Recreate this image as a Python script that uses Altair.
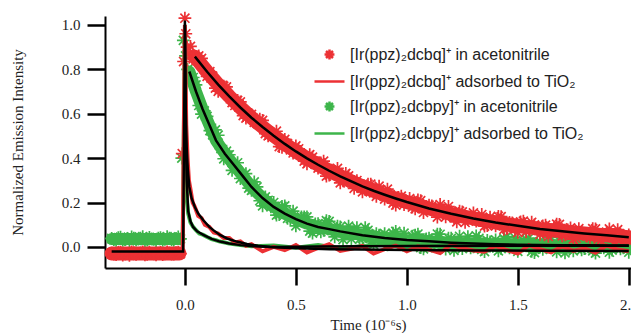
import altair as alt
import pandas as pd

# ---------------- labels ----------------
LAB_RED_ACN = "[Ir(ppz)₂dcbq]⁺ in acetonitrile"
LAB_RED_TIO2 = "[Ir(ppz)₂dcbq]⁺ adsorbed to TiO₂"
LAB_GRN_ACN = "[Ir(ppz)₂dcbpy]⁺ in acetonitrile"
LAB_GRN_TIO2 = "[Ir(ppz)₂dcbpy]⁺ adsorbed to TiO₂"
SERIES = [LAB_RED_ACN, LAB_RED_TIO2, LAB_GRN_ACN, LAB_GRN_TIO2]

# ---------------- data ----------------
T_PRE = [-0.33, -0.31, -0.29, -0.27, -0.25, -0.23, -0.21, -0.19,
         -0.17, -0.15, -0.13, -0.11, -0.09, -0.07, -0.05, -0.03]
RED_PRE = [-0.028, -0.035, -0.024, -0.031, -0.038, -0.026, -0.030, -0.022,
           -0.034, -0.029, -0.036, -0.025, -0.031, -0.027, -0.033, -0.024]
GRN_PRE = [0.038, 0.030, 0.044, 0.033, 0.027, 0.040, 0.035, 0.046,
           0.031, 0.036, 0.028, 0.042, 0.034, 0.039, 0.030, 0.045]
T_PRE_B = [-0.32, -0.30, -0.28, -0.26, -0.24, -0.22, -0.20, -0.18,
           -0.16, -0.14, -0.12, -0.10, -0.08, -0.06, -0.04, -0.02]
RED_PRE_B = [-0.032, -0.025, -0.037, -0.029, -0.022, -0.034, -0.027, -0.036,
             -0.024, -0.031, -0.028, -0.035, -0.023, -0.033, -0.026, -0.030]
GRN_PRE_B = [0.033, 0.042, 0.029, 0.037, 0.045, 0.031, 0.039, 0.028,
             0.043, 0.034, 0.040, 0.030, 0.046, 0.032, 0.038, 0.036]

T_RED_SPIKE = [-0.012, -0.006, 0.0, 0.004, 0.010, 0.018]
RED_SPIKE = [0.42, 0.835, 1.03, 0.96, 0.90, 0.87]
T_GRN_SPIKE = [-0.014, -0.007, 0.003, 0.012]
GRN_SPIKE = [0.40, 0.93, 0.86, 0.80]

T_DECAY = [0.025, 0.05, 0.075, 0.1, 0.125, 0.15, 0.175, 0.2, 0.225, 0.25,
           0.275, 0.3, 0.325, 0.35, 0.375, 0.4, 0.425, 0.45, 0.475, 0.5,
           0.525, 0.55, 0.575, 0.6, 0.625, 0.65, 0.675, 0.7, 0.725, 0.75,
           0.775, 0.8, 0.825, 0.85, 0.875, 0.9, 0.925, 0.95, 0.975, 1.0,
           1.025, 1.05, 1.075, 1.1, 1.125, 1.15, 1.175, 1.2, 1.225, 1.25,
           1.275, 1.3, 1.325, 1.35, 1.375, 1.4, 1.425, 1.45, 1.475, 1.5,
           1.525, 1.55, 1.575, 1.6, 1.625, 1.65, 1.675, 1.7, 1.725, 1.75,
           1.775, 1.8, 1.825, 1.85, 1.875, 1.9, 1.925, 1.95, 1.975, 2.0]
RED_DECAY = [0.903, 0.841, 0.849, 0.768, 0.769, 0.701, 0.724, 0.678, 0.637, 0.653,
             0.580, 0.597, 0.556, 0.570, 0.500, 0.510, 0.452, 0.484, 0.437, 0.455,
             0.419, 0.374, 0.404, 0.355, 0.386, 0.323, 0.340, 0.288, 0.331, 0.290,
             0.299, 0.248, 0.283, 0.243, 0.274, 0.215, 0.236, 0.188, 0.229, 0.202,
             0.179, 0.212, 0.155, 0.188, 0.162, 0.191, 0.135, 0.159, 0.113, 0.158,
             0.123, 0.153, 0.128, 0.094, 0.134, 0.095, 0.136, 0.082, 0.108, 0.065,
             0.116, 0.083, 0.099, 0.056, 0.098, 0.065, 0.103, 0.050, 0.077, 0.035,
             0.082, 0.060, 0.043, 0.081, 0.029, 0.067, 0.045, 0.078, 0.026, 0.054]
GRN_DECAY = [0.755, 0.730, 0.598, 0.588, 0.505, 0.503, 0.397, 0.415, 0.365, 0.308,
             0.330, 0.255, 0.270, 0.185, 0.210, 0.200, 0.145, 0.185, 0.127, 0.095,
             0.135, 0.135, 0.062, 0.105, 0.075, 0.115, 0.045, 0.090, 0.066, 0.036,
             0.087, 0.038, 0.075, 0.011, 0.053, 0.060, 0.018, 0.070, 0.023, 0.001,
             0.049, 0.058, -0.009, 0.040, 0.013, 0.057, -0.010, 0.039, 0.018, -0.008,
             0.046, 0.000, 0.039, -0.021, 0.023, 0.032, -0.008, 0.046, 0.001, -0.020,
             0.030, 0.040, -0.026, 0.024, -0.001, 0.043, -0.022, 0.028, 0.008, -0.018,
             0.037, -0.008, 0.032, -0.028, 0.016, 0.026, -0.014, 0.041, -0.004, -0.024]

T_DECAY_B = [0.0375, 0.0625, 0.0875, 0.1125, 0.1375, 0.1625, 0.1875, 0.2125, 0.2375, 0.2625,
             0.2875, 0.3125, 0.3375, 0.3625, 0.3875, 0.4125, 0.4375, 0.4625, 0.4875, 0.5125,
             0.5375, 0.5625, 0.5875, 0.6125, 0.6375, 0.6625, 0.6875, 0.7125, 0.7375, 0.7625,
             0.7875, 0.8125, 0.8375, 0.8625, 0.8875, 0.9125, 0.9375, 0.9625, 0.9875, 1.0125,
             1.0375, 1.0625, 1.0875, 1.1125, 1.1375, 1.1625, 1.1875, 1.2125, 1.2375, 1.2625,
             1.2875, 1.3125, 1.3375, 1.3625, 1.3875, 1.4125, 1.4375, 1.4625, 1.4875, 1.5125,
             1.5375, 1.5625, 1.5875, 1.6125, 1.6375, 1.6625, 1.6875, 1.7125, 1.7375, 1.7625,
             1.7875, 1.8125, 1.8375, 1.8625, 1.8875, 1.9125, 1.9375, 1.9625, 1.9875]
RED_DECAY_B = [0.847, 0.860, 0.799, 0.789, 0.715, 0.727, 0.721, 0.650, 0.660, 0.591,
               0.599, 0.561, 0.575, 0.510, 0.510, 0.521, 0.448, 0.465, 0.423, 0.442,
               0.386, 0.416, 0.372, 0.378, 0.319, 0.346, 0.354, 0.297, 0.320, 0.264,
               0.283, 0.258, 0.283, 0.228, 0.239, 0.260, 0.197, 0.223, 0.191, 0.218,
               0.171, 0.208, 0.172, 0.185, 0.134, 0.168, 0.182, 0.131, 0.161, 0.110,
               0.135, 0.116, 0.146, 0.096, 0.112, 0.138, 0.079, 0.110, 0.081, 0.113,
               0.069, 0.111, 0.078, 0.095, 0.047, 0.084, 0.101, 0.054, 0.086, 0.039,
               0.066, 0.049, 0.082, 0.035, 0.053, 0.081, 0.024, 0.057, 0.030]
GRN_DECAY_B = [0.763, 0.637, 0.613, 0.524, 0.527, 0.443, 0.431, 0.345, 0.379, 0.322,
               0.265, 0.293, 0.208, 0.225, 0.180, 0.143, 0.183, 0.129, 0.161, 0.120,
               0.135, 0.071, 0.104, 0.068, 0.118, 0.073, 0.093, 0.033, 0.094, 0.064,
               0.035, 0.087, 0.023, 0.060, 0.032, 0.009, 0.062, 0.019, 0.062, 0.030,
               0.053, -0.003, 0.036, 0.004, 0.058, 0.016, 0.040, -0.016, 0.048, 0.022,
               -0.004, 0.050, -0.011, 0.029, 0.003, -0.018, 0.037, -0.004, 0.041, 0.010,
               0.035, -0.020, 0.019, -0.011, 0.044, 0.003, 0.028, -0.027, 0.038, 0.012,
               -0.013, 0.042, -0.018, 0.022, -0.004, -0.024, 0.031, -0.009, 0.036]

# adsorbed to TiO2 (fast decays)
T_RED_TIO2 = [-0.01, 0.0, 0.006, 0.012, 0.018, 0.025, 0.035, 0.045, 0.06, 0.075,
              0.09, 0.11, 0.13, 0.15, 0.175, 0.2, 0.225, 0.25, 0.275, 0.3,
              0.35, 0.4, 0.45, 0.5, 0.55, 0.6, 0.65, 0.7, 0.75, 0.8,
              0.85, 0.9, 0.95, 1.0, 1.05, 1.1, 1.15, 1.2, 1.25, 1.3,
              1.35, 1.4, 1.45, 1.5, 1.55, 1.6, 1.65, 1.7, 1.75, 1.8,
              1.85, 1.9, 1.95, 2.0]
RED_TIO2 = [-0.020, 1.000, 0.550, 0.400, 0.300, 0.260, 0.200, 0.180, 0.140, 0.130,
            0.100, 0.090, 0.065, 0.060, 0.040, 0.040, 0.020, 0.025, 0.005, 0.012,
            -0.020, 0.000, -0.015, 0.008, -0.025, -0.005, 0.012, -0.018, -0.008, 0.004,
            -0.030, -0.010, 0.006, -0.020, 0.002, -0.012, -0.028, 0.010, -0.006, -0.016,
            -0.022, 0.004, -0.014, -0.030, 0.008, -0.010, -0.024, 0.002, -0.018, -0.006,
            -0.026, 0.006, -0.012, -0.020]
T_GRN_TIO2 = [-0.01, 0.0, 0.005, 0.01, 0.015, 0.025, 0.037, 0.05, 0.065, 0.083,
              0.1, 0.12, 0.14, 0.158, 0.18, 0.2, 0.25, 0.3, 0.4, 0.5,
              0.6, 0.7, 0.8, 0.9, 1.0, 1.1, 1.2, 1.3, 1.4, 1.5,
              1.6, 1.7, 1.8, 1.9, 2.0]
GRN_TIO2 = [0.030, 0.980, 0.400, 0.200, 0.150, 0.110, 0.090, 0.075, 0.060, 0.054,
            0.045, 0.035, 0.030, 0.024, 0.020, 0.015, 0.008, 0.003, 0.006, -0.004,
            0.008, -0.006, 0.004, 0.010, -0.005, 0.006, -0.008, 0.005, 0.000, 0.009,
            -0.004, 0.006, -0.007, 0.004, 0.002]

# black fitted curves
T_FIT_RED_ACN = [0.045, 0.1, 0.15, 0.2, 0.25, 0.3, 0.35, 0.4, 0.45, 0.5,
                 0.55, 0.6, 0.65, 0.7, 0.75, 0.8, 0.85, 0.9, 0.95, 1.0,
                 1.1, 1.2, 1.3, 1.4, 1.5, 1.6, 1.7, 1.8, 1.9, 2.0]
FIT_RED_ACN = [0.857, 0.789, 0.731, 0.678, 0.628, 0.582, 0.540, 0.501, 0.464, 0.430,
               0.399, 0.370, 0.343, 0.318, 0.295, 0.273, 0.253, 0.235, 0.218, 0.202,
               0.173, 0.149, 0.128, 0.110, 0.095, 0.081, 0.070, 0.060, 0.052, 0.044]
T_FIT_GRN_ACN = [0.02, 0.05, 0.08, 0.11, 0.14, 0.18, 0.22, 0.26, 0.3, 0.35,
                 0.4, 0.45, 0.5, 0.55, 0.6, 0.65, 0.7, 0.8, 0.9, 1.0,
                 1.1, 1.2, 1.3, 1.4, 1.5, 1.6, 1.7, 1.8, 1.9, 2.0]
FIT_GRN_ACN = [0.790, 0.700, 0.620, 0.550, 0.480, 0.420, 0.370, 0.320, 0.270, 0.220,
               0.180, 0.150, 0.125, 0.105, 0.090, 0.080, 0.070, 0.053, 0.040, 0.031,
               0.025, 0.019, 0.015, 0.012, 0.010, 0.009, 0.008, 0.007, 0.006, 0.006]
T_FIT_RED_TIO2 = [-0.33, -0.008, 0.0, 0.004, 0.008, 0.013, 0.02, 0.03, 0.045, 0.06,
                  0.083, 0.11, 0.135, 0.158, 0.19, 0.233, 0.28, 0.33, 0.383, 0.45,
                  0.55, 0.653, 0.8, 1.0, 1.3, 1.6, 2.0]
FIT_RED_TIO2 = [-0.021, -0.021, 1.02, 0.62, 0.45, 0.35, 0.27, 0.22, 0.18, 0.15,
                0.12, 0.09, 0.07, 0.054, 0.038, 0.024, 0.013, 0.005, 0.0, -0.004,
                -0.007, -0.010, -0.012, -0.014, -0.016, -0.017, -0.018]
T_FIT_GRN_TIO2 = [0.0, 0.004, 0.008, 0.015, 0.025, 0.037, 0.055, 0.083, 0.12, 0.158,
                  0.2, 0.25, 0.308, 0.4, 0.6, 1.0, 1.5, 2.0]
FIT_GRN_TIO2 = [1.0, 0.5, 0.3, 0.16, 0.115, 0.09, 0.07, 0.054, 0.036, 0.024,
                0.015, 0.008, 0.003, 0.0, 0.002, 0.004, 0.005, 0.005]

# centre of the dense baseline bands before excitation
T_BASE = [-0.33, -0.025]
RED_BASE = [-0.030, -0.030]
GRN_BASE = [0.036, 0.036]

# ---------------- tables ----------------
def frame(ts, ys, series, order):
    return pd.DataFrame({"t": ts, "y": ys, "series": series, "order": order})

stars = pd.concat([
    frame(T_PRE + T_PRE_B + T_GRN_SPIKE + T_DECAY + T_DECAY_B,
          GRN_PRE + GRN_PRE_B + GRN_SPIKE + GRN_DECAY + GRN_DECAY_B, LAB_GRN_ACN, 0),
    frame(T_PRE + T_PRE_B + T_RED_SPIKE + T_DECAY + T_DECAY_B,
          RED_PRE + RED_PRE_B + RED_SPIKE + RED_DECAY + RED_DECAY_B, LAB_RED_ACN, 1),
], ignore_index=True)
stars["idx"] = range(len(stars))

red_core = pd.concat([frame(T_BASE, RED_BASE, "a", 0),
                      frame(T_FIT_RED_ACN, FIT_RED_ACN, "b", 1)], ignore_index=True)
grn_core = pd.concat([frame(T_BASE, GRN_BASE, "a", 0),
                      frame(T_FIT_GRN_ACN, FIT_GRN_ACN, "b", 1)], ignore_index=True)

tio2 = pd.concat([
    frame(T_GRN_TIO2, GRN_TIO2, LAB_GRN_TIO2, 0),
    frame(T_RED_TIO2, RED_TIO2, LAB_RED_TIO2, 1),
], ignore_index=True)

fits = pd.concat([
    frame(T_FIT_RED_ACN, FIT_RED_ACN, "fit_red_acn", 0),
    frame(T_FIT_GRN_ACN, FIT_GRN_ACN, "fit_grn_acn", 1),
    frame(T_FIT_RED_TIO2, FIT_RED_TIO2, "fit_red_tio2", 2),
    frame(T_FIT_GRN_TIO2, FIT_GRN_TIO2, "fit_grn_tio2", 3),
], ignore_index=True)

RED = "#ec3134"
GREEN = "#3db54a"
STAR = ("M-0.33,0L0.33,0M0,-0.33L0,0.33M-0.233,-0.233L0.233,0.233"
        "M-0.233,0.233L0.233,-0.233")

x_scale = alt.Scale(domain=[-0.36, 2.01], nice=False, zero=False)
y_scale = alt.Scale(domain=[-0.095, 1.04], nice=False, zero=False)
color_scale = alt.Scale(domain=SERIES, range=[RED, RED, GREEN, GREEN])
shape_scale = alt.Scale(domain=SERIES, range=[STAR, "stroke", STAR, "stroke"])

x_axis = alt.Axis(values=[0, 0.5, 1.0, 1.5, 2.0], format=".1f", title="Time (10⁻⁶s)",
                  tickSize=17, labelPadding=12, titlePadding=5)
y_axis = alt.Axis(values=[0, 0.2, 0.4, 0.6, 0.8, 1.0], format=".1f",
                  title="Normalized Emission Intensity", tickSize=18, labelPadding=7,
                  titleX=-80)

legend = alt.Legend(title=None, orient="none", legendX=208, legendY=22,
                    symbolSize=900, symbolStrokeWidth=2.5, rowPadding=-2.2,
                    labelOffset=4, labelFont="Liberation Sans", labelFontSize=16,
                    labelColor="#222222", padding=0, labelLimit=400)


def core(df, colour, width):
    return alt.Chart(df).mark_line(color=colour, strokeWidth=width, strokeCap="round",
                                   strokeJoin="round").encode(
        x="t:Q", y="y:Q", detail="series:N")


def star_points(series):
    return alt.Chart(stars).transform_filter(
        alt.datum.series == series
    ).mark_point(filled=False, size=1500, strokeWidth=1.7, opacity=1).encode(
        x=alt.X("t:Q", scale=x_scale, axis=x_axis),
        y=alt.Y("y:Q", scale=y_scale, axis=y_axis),
        color=alt.Color("series:N", scale=color_scale, legend=legend),
        shape=alt.Shape("series:N", scale=shape_scale, legend=legend),
        order=alt.Order("idx:Q"),
    )


tio2_layer = alt.Chart(tio2).mark_line(strokeWidth=4).encode(
    x="t:Q", y="y:Q",
    color=alt.Color("series:N", scale=color_scale, legend=legend),
    detail="order:N",
)

fit_layer = alt.Chart(fits).mark_line(strokeWidth=2.5, color="black").encode(
    x="t:Q", y="y:Q", detail="series:N",
)

chart = alt.layer(
    star_points(LAB_GRN_ACN), core(grn_core, GREEN, 12),
    core(red_core, RED, 14), star_points(LAB_RED_ACN),
    tio2_layer, fit_layer,
).resolve_scale(
    color="shared", shape="shared"
).properties(
    width=526, height=252,
    padding={"left": 97, "top": 8, "right": 0, "bottom": 66},
    autosize=alt.AutoSizeParams(type="none"),
).configure_view(stroke=None).configure_axis(
    grid=False, domainColor="black", domainWidth=2, tickColor="black", tickWidth=2.5,
    labelFont="Liberation Serif", labelFontSize=15, labelColor="#222222",
    titleFont="Liberation Serif", titleFontSize=15, titleFontWeight="normal",
    titleColor="#222222",
)

chart.save("out.html", embed_options={"renderer": "svg", "actions": False})
